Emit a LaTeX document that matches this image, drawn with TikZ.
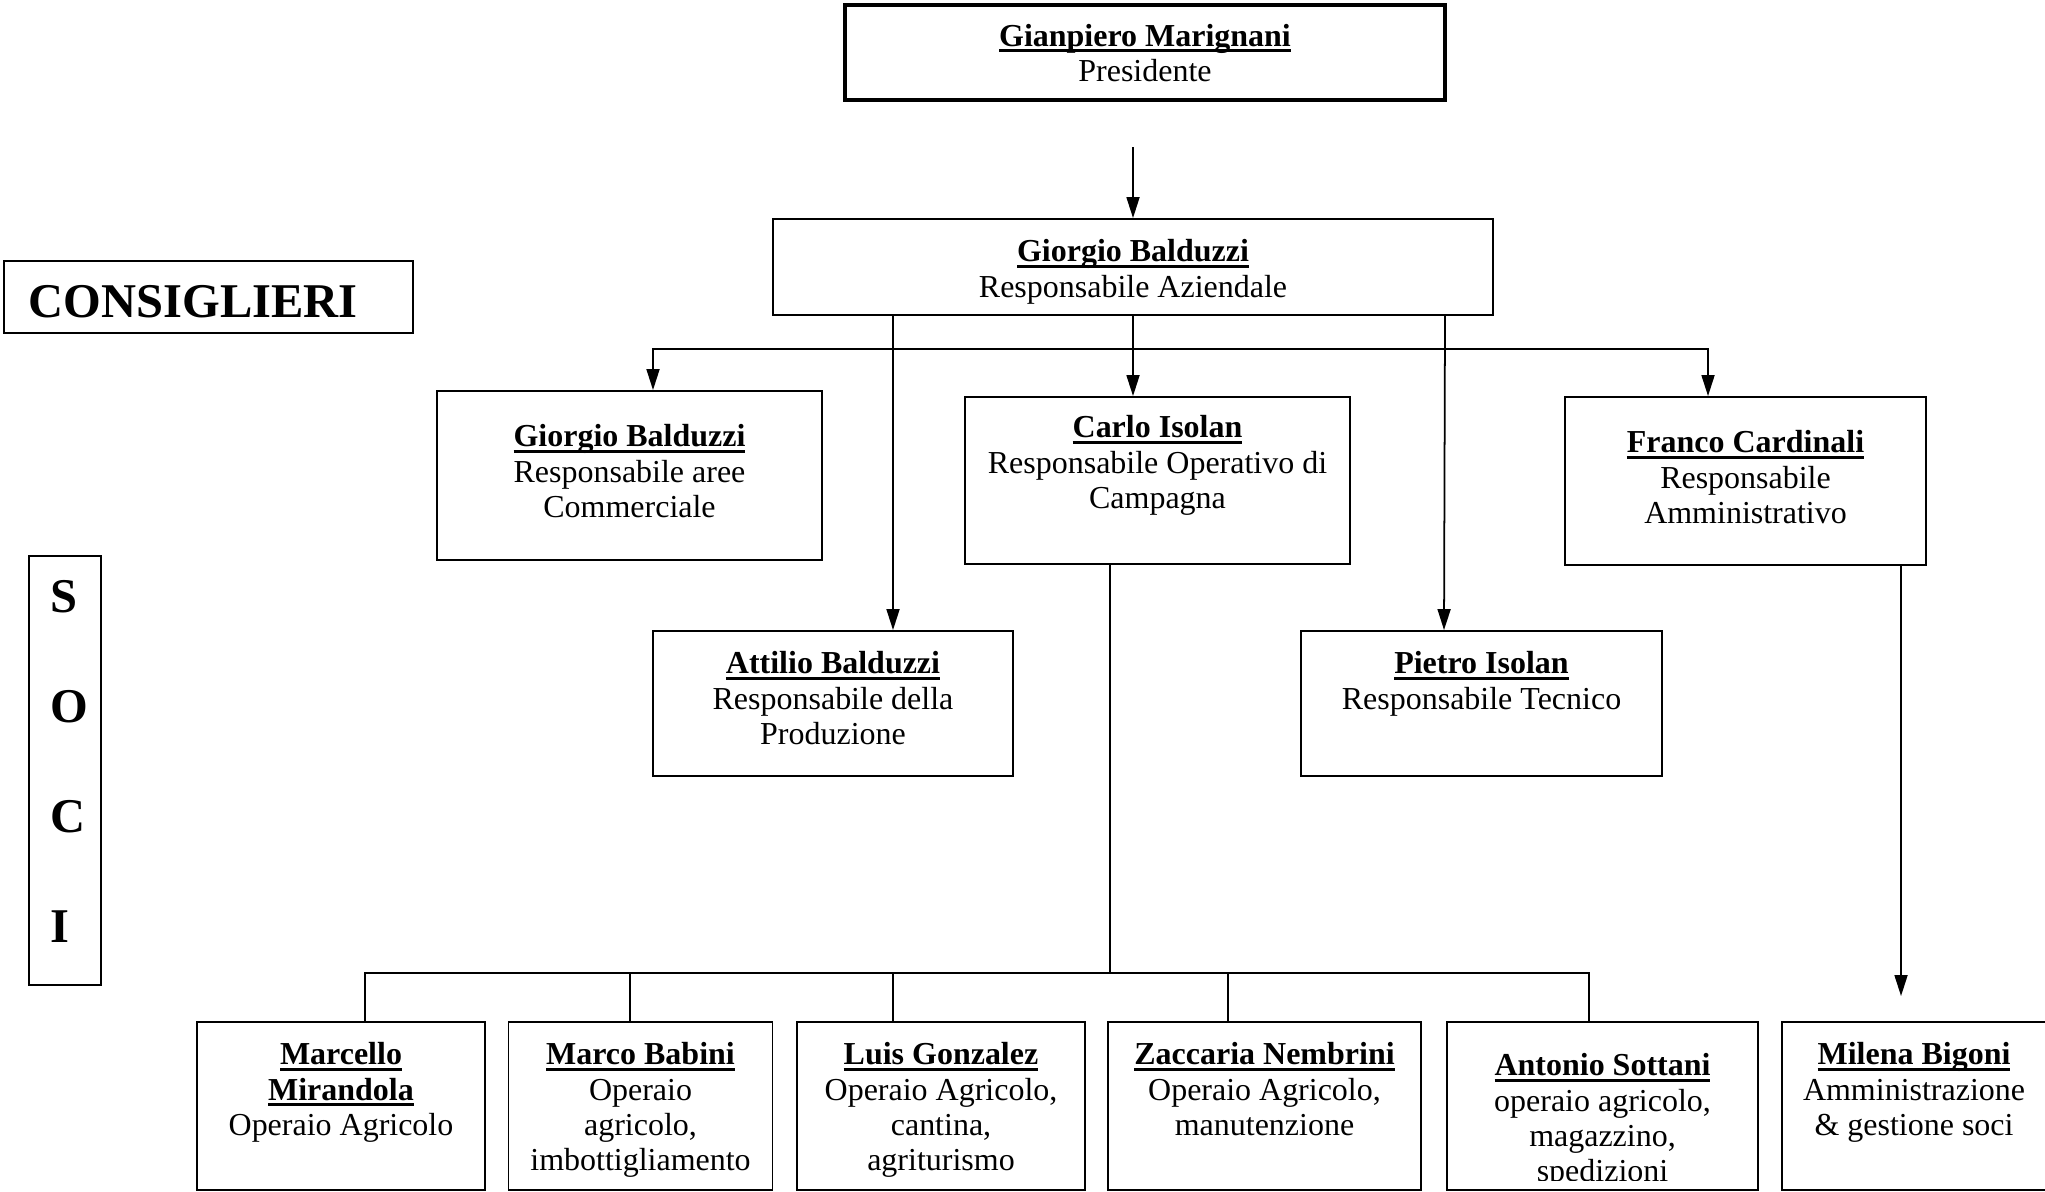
\documentclass[tikz,border=0pt]{standalone}
\usepackage{fontspec}
\setmainfont{Liberation Serif}
\usetikzlibrary{arrows.meta,positioning}
\newcommand{\persona}[1]{\setbox0=\hbox{\bfseries #1}\rlap{\rule[-1.7pt]{\wd0}{0.85pt}}\box0}

\begin{document}
\begin{tikzpicture}[
        box/.style={draw, line width=0.55pt, inner sep=0pt},
        txt/.style={align=center, inner sep=0pt, anchor=north, font=\fontsize{9.1}{10}\selectfont},
        big_txt/.style={inner sep=0pt, anchor=base west, font=\fontsize{13.8}{16}\selectfont\bfseries},
        plain edge/.style={draw, line width=0.5pt},
        arrow edge/.style={draw, line width=0.5pt, -{Triangle[length=2.1mm, width=1.3mm]}}
    ]
    \useasboundingbox (0,0) rectangle (20.45,-11.91);

    % left side labels
    \node[box, minimum width=4.09cm, minimum height=0.72cm] (consiglieri) at (2.085,-2.97) {};
    \node[big_txt] (consiglieri_t) at (0.28,-3.17) {CONSIGLIERI};
    \node[box, minimum width=0.72cm, minimum height=4.29cm] (soci) at (0.65,-7.705) {};
    \node[big_txt] (soci_s) at (0.50,-6.12) {S};
    \node[big_txt] (soci_o) at (0.50,-7.22) {O};
    \node[big_txt] (soci_c) at (0.50,-8.32) {C};
    \node[big_txt] (soci_i) at (0.50,-9.42) {I};

    % top levels
    \node[box, line width=0.9pt, minimum width=6.00cm, minimum height=0.95cm] (pres) at (11.45,-0.525) {};
    \node[txt, below=0.20cm of pres.north] (pres_t) {\persona{Gianpiero Marignani}\\Presidente};
    \node[box, minimum width=7.20cm, minimum height=0.96cm] (azienda) at (11.33,-2.67) {};
    \node[txt, below=0.21cm of azienda.north] (azienda_t) {\persona{Giorgio Balduzzi}\\Responsabile Aziendale};

    % responsabili
    \node[box, minimum width=3.85cm, minimum height=1.69cm] (comm) at (6.295,-4.755) {};
    \node[txt, below=0.34cm of comm.north] (comm_t) {\persona{Giorgio Balduzzi}\\Responsabile aree\\Commerciale};
    \node[box, minimum width=3.85cm, minimum height=1.67cm] (carlo) at (11.575,-4.805) {};
    \node[txt, below=0.19cm of carlo.north] (carlo_t) {\persona{Carlo Isolan}\\Responsabile Operativo di\\Campagna};
    \node[box, minimum width=3.61cm, minimum height=1.68cm] (franco) at (17.455,-4.81) {};
    \node[txt, below=0.34cm of franco.north] (franco_t) {\persona{Franco Cardinali}\\Responsabile\\Amministrativo};
    \node[box, minimum width=3.60cm, minimum height=1.45cm] (attilio) at (8.33,-7.035) {};
    \node[txt, below=0.21cm of attilio.north] (attilio_t) {\persona{Attilio Balduzzi}\\Responsabile della\\Produzione};
    \node[box, minimum width=3.61cm, minimum height=1.45cm] (pietro) at (14.815,-7.035) {};
    \node[txt, below=0.21cm of pietro.north] (pietro_t) {\persona{Pietro Isolan}\\Responsabile Tecnico};

    % operai
    \node[box, minimum width=2.88cm, minimum height=1.68cm] (marcello) at (3.41,-11.06) {};
    \node[txt, below=0.21cm of marcello.north] (marcello_t) {\persona{Marcello}\\\persona{Mirandola}\\Operaio Agricolo};
    \node[box, minimum width=2.64cm, minimum height=1.68cm] (marco) at (6.405,-11.06) {};
    \node[txt, below=0.21cm of marco.north] (marco_t) {\persona{Marco Babini}\\Operaio\\agricolo,\\imbottigliamento};
    \node[box, minimum width=2.88cm, minimum height=1.68cm] (luis) at (9.41,-11.06) {};
    \node[txt, below=0.21cm of luis.north] (luis_t) {\persona{Luis Gonzalez}\\Operaio Agricolo,\\cantina,\\agriturismo};
    \node[box, minimum width=3.13cm, minimum height=1.68cm] (zaccaria) at (12.645,-11.06) {};
    \node[txt, below=0.21cm of zaccaria.north] (zaccaria_t) {\persona{Zaccaria Nembrini}\\Operaio Agricolo,\\manutenzione};
    \node[box, minimum width=3.11cm, minimum height=1.68cm] (antonio) at (16.025,-11.06) {};
    \begin{scope}
        \clip (14.47,-10.22) rectangle (17.58,-11.80);
        \node[txt, below=0.32cm of antonio.north] (antonio_t) {\persona{Antonio Sottani}\\operaio agricolo,\\magazzino,\\spedizioni};
    \end{scope}
    \node[box, minimum width=2.64cm, minimum height=1.68cm] (milena) at (19.14,-11.06) {};
    \node[txt, below=0.21cm of milena.north] (milena_t) {\persona{Milena Bigoni}\\Amministrazione\\\& gestione soci};

    % connectors
    \coordinate (pres_out) at (11.33,-1.47);
    \coordinate (bus_resp) at (11.33,-3.49);
    \coordinate (bus_operai) at (11.10,-9.73);
    \coordinate (milena_in) at (19.01,-9.96);
    \draw[arrow edge] (pres_out) -- (azienda.north);
    \draw[arrow edge] (azienda.south) -- ([xshift=-0.245cm]carlo.north);
    \draw[arrow edge] (bus_resp) -| ([xshift=0.235cm]comm.north);
    \draw[arrow edge] (bus_resp) -| ([xshift=-0.375cm]franco.north);
    \draw[arrow edge] ([xshift=-2.40cm]azienda.south) -- ([xshift=0.60cm]attilio.north);
    \draw[arrow edge] ([xshift=3.12cm]azienda.south) -- ([xshift=-0.375cm]pietro.north);
    \draw[plain edge] ([xshift=-0.475cm]carlo.south) -- (bus_operai);
    \draw[plain edge] ([xshift=0.24cm]marcello.north) |- (bus_operai) -| ([xshift=-0.135cm]antonio.north);
    \draw[plain edge] ([xshift=-0.105cm]marco.north) -- ([xshift=-0.105cm]marco.north |- bus_operai);
    \draw[plain edge] ([xshift=-0.48cm]luis.north) -- ([xshift=-0.48cm]luis.north |- bus_operai);
    \draw[plain edge] ([xshift=-0.365cm]zaccaria.north) -- ([xshift=-0.365cm]zaccaria.north |- bus_operai);
    \draw[arrow edge] ([xshift=1.555cm]franco.south) -- (milena_in);
\end{tikzpicture}
\end{document}
